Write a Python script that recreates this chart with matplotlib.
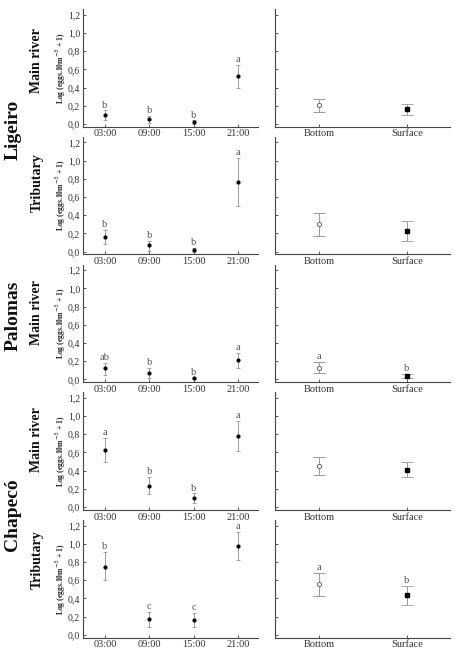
import numpy as np
import matplotlib
matplotlib.use("Agg")
import matplotlib.pyplot as plt

# ==========================
# Data
# ==========================

times = ["03:00", "09:00", "15:00", "21:00"]
depths = ["Bottom", "Surface"]

row_names = ["Main river", "Tributary", "Main river", "Main river", "Tributary"]
sites = ["Ligeiro", "Palomas", "Chapecó"]

# hour of day (mean, lower, upper, letter)
time_mean = [
    [0.10, 0.05, 0.02, 0.53],
    [0.16, 0.07, 0.02, 0.77],
    [0.12, 0.07, 0.01, 0.21],
    [0.63, 0.23, 0.10, 0.78],
    [0.75, 0.17, 0.16, 0.98],
]
time_lo = [
    [0.04, 0.01, 0.00, 0.39],
    [0.08, 0.01, 0.00, 0.50],
    [0.05, 0.01, 0.00, 0.13],
    [0.50, 0.14, 0.05, 0.62],
    [0.60, 0.08, 0.09, 0.82],
]
time_hi = [
    [0.15, 0.09, 0.04, 0.65],
    [0.24, 0.12, 0.04, 1.03],
    [0.18, 0.13, 0.02, 0.29],
    [0.76, 0.33, 0.15, 0.95],
    [0.91, 0.25, 0.24, 1.13],
]
time_letters = [
    ["b", "b", "b", "a"],
    ["b", "b", "b", "a"],
    ["ab", "b", "b", "a"],
    ["a", "b", "b", "a"],
    ["b", "c", "c", "a"],
]

# depth (Bottom, Surface)
depth_mean = [
    [0.21, 0.16],
    [0.30, 0.23],
    [0.13, 0.04],
    [0.45, 0.41],
    [0.56, 0.44],
]
depth_lo = [
    [0.13, 0.10],
    [0.17, 0.12],
    [0.07, 0.02],
    [0.35, 0.33],
    [0.43, 0.33],
]
depth_hi = [
    [0.27, 0.22],
    [0.43, 0.34],
    [0.19, 0.06],
    [0.55, 0.50],
    [0.68, 0.54],
]
depth_letters = [
    ["", ""],
    ["", ""],
    ["a", "b"],
    ["", ""],
    ["a", "b"],
]

# ==========================
# Figure
# ==========================

plt.rcParams["font.family"] = ["Liberation Serif", "DejaVu Serif"]

W, H = 456, 659
fig = plt.figure(figsize=(W / 100, H / 100), dpi=100)

err_col = "#9a9a9a"
txt_col = "#555555"
axis_col = "#444444"

ylim = (-0.03, 1.26)
row_step = 127.7
ax_h = 117.4


def style(ax, show_ylabels):
    ax.spines["top"].set_visible(False)
    ax.spines["right"].set_visible(False)
    for s in ["left", "bottom"]:
        ax.spines[s].set_color(axis_col)
        ax.spines[s].set_linewidth(0.8)
    ax.set_ylim(*ylim)
    ax.set_yticks(np.arange(0, 1.21, 0.2))
    if show_ylabels:
        ax.set_yticklabels([f"{v:.1f}".replace(".", ",") for v in np.arange(0, 1.21, 0.2)])
    else:
        ax.set_yticklabels([])
    ax.tick_params(direction="in", length=2, width=0.6, colors=axis_col,
                   labelcolor="#333333", pad=2)
    ax.tick_params(axis="y", labelsize=7)
    ax.tick_params(axis="x", labelsize=7.5)


for i in range(5):
    bottom_px = 126.7 + row_step * i
    b = 1 - bottom_px / H
    h = ax_h / H

    # --- hour panel ---
    ax = fig.add_axes([83 / W, b, (258 - 83) / W, h])
    x = np.arange(len(times))
    m = np.array(time_mean[i])
    lo = np.array(time_lo[i])
    hi = np.array(time_hi[i])
    ax.errorbar(x, m, yerr=[m - lo, hi - m], fmt="o", ms=2, color="black",
                ecolor=err_col, elinewidth=0.7, capsize=1.5, capthick=0.6)
    for xi, top, lab in zip(x, hi, time_letters[i]):
        ax.annotate(lab, (xi, top), xytext=(0, 0.5), textcoords="offset points",
                    ha="center", va="bottom", fontsize=7.5, color=txt_col)
    ax.set_xlim(-0.49, 3.44)
    ax.set_xticks(x)
    ax.set_xticklabels(times)
    style(ax, True)

    # --- depth panel ---
    ax2 = fig.add_axes([275 / W, b, (450 - 275) / W, h])
    xd = np.arange(len(depths))
    md = np.array(depth_mean[i])
    lod = np.array(depth_lo[i])
    hid = np.array(depth_hi[i])
    ax2.errorbar(xd[:1], md[:1], yerr=[md[:1] - lod[:1], hid[:1] - md[:1]], fmt="o",
                 ms=3, mfc="white", mec="#666666", mew=0.7,
                 ecolor=err_col, elinewidth=0.7, capsize=4, capthick=0.6)
    ax2.errorbar(xd[1:], md[1:], yerr=[md[1:] - lod[1:], hid[1:] - md[1:]], fmt="s",
                 ms=3, color="black",
                 ecolor=err_col, elinewidth=0.7, capsize=4, capthick=0.6)
    for xi, top, lab in zip(xd, hid, depth_letters[i]):
        if lab:
            ax2.annotate(lab, (xi, top), xytext=(0, 0.5), textcoords="offset points",
                         ha="center", va="bottom", fontsize=7.5, color=txt_col)
    ax2.set_xlim(-0.5, 1.49)
    ax2.set_xticks(xd)
    ax2.set_xticklabels(depths)
    style(ax2, False)

    # --- y label ---
    center_px = bottom_px - ax_h / 2
    fig.text(61 / W, 1 - center_px / H, "Log (eggs.10m$^{-3}$ + 1)", rotation=90,
             ha="center", va="center", fontsize=5.5, fontweight="bold", color="#222222")

row_label_y = [61, 183, 313, 440, 560]
for name, yp in zip(row_names, row_label_y):
    fig.text(37 / W, 1 - yp / H, name, rotation=90, ha="center", va="center",
             fontsize=10, fontweight="bold", color="#111111")

site_y = [130, 316, 515]
for name, yp in zip(sites, site_y):
    fig.text(13 / W, 1 - yp / H, name, rotation=90, ha="center", va="center",
             fontsize=14, fontweight="bold", color="#111111")

fig.savefig("out.png", dpi=100)
